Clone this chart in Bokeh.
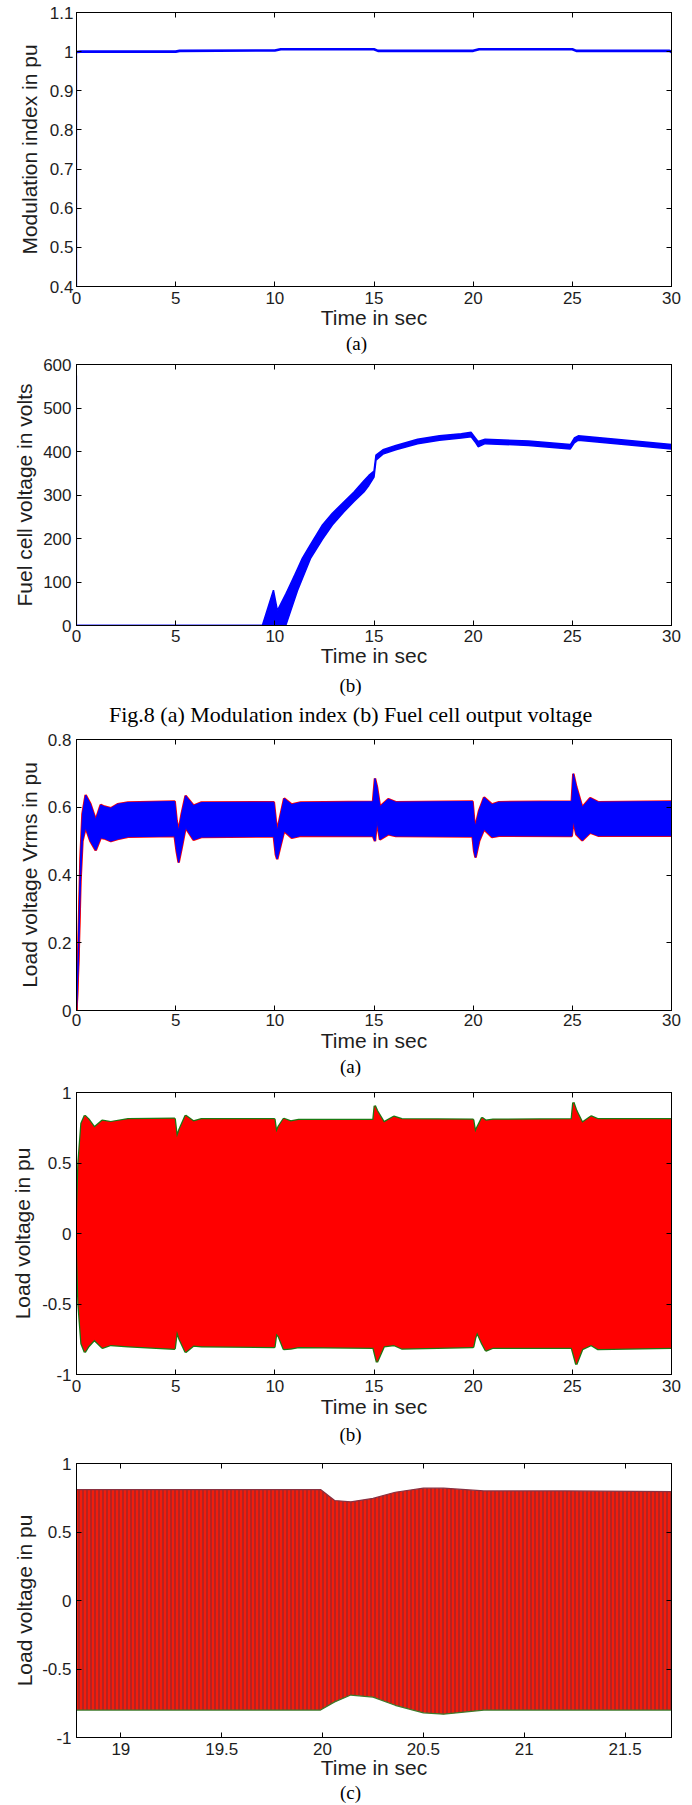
from bokeh.plotting import figure
from bokeh.models import (LinearAxis, FixedTicker, CustomJSTickFormatter, Range1d, Title)
from bokeh.layouts import column
from bokeh.embed import file_html
from bokeh.resources import INLINE

# ---------------- data ----------------
# Fig 8 (a) Modulation index
mi_t = [0, 0, 0.2, 5.0, 5.2, 10.0, 10.3, 15.0, 15.2, 20.0, 20.3, 25.0, 25.2, 29.9, 30]
mi_v = [0.4, 0.999, 1.0, 1.0, 1.002, 1.003, 1.006, 1.006, 1.002, 1.002, 1.006, 1.006, 1.002, 1.002, 0.999]

# Fig 8 (b) Fuel cell voltage (ribbon: upper / lower envelope)
fc_t = [0, 9.37, 9.93, 10.13, 10.55, 10.63, 11.0, 11.14, 11.39, 11.81, 12.4, 12.9, 13.5, 13.99,
        14.49, 14.74, 15.0, 15.1, 15.45, 16.1, 17.2, 18.3, 19.4, 19.9, 20.1, 20.25, 20.6, 22.8,
        24.9, 25.1, 25.3, 27.2, 30]
fc_up = [0, 0, 81, 34, 72, 80, 116, 130, 155, 187, 231, 258, 285, 307,
         333, 345, 355, 392, 404, 414, 428, 436, 441, 444, 432, 423, 428, 424,
         416, 431, 436, 428, 416]
fc_lo = [0, 0, 0, 0, 0, 11, 61, 80, 108, 155, 198, 231, 262, 285,
         307, 322, 341, 380, 394, 404, 418, 426, 431, 434, 422, 411, 418, 414,
         406, 420, 426, 418, 406]
fc_start_t = [0, 0]
fc_start_v = [0, 575]

# Fig 9 (a) Load voltage Vrms
vr_t = [0, 0.1, 0.2, 0.3, 0.46, 0.7, 0.97, 1.22, 1.4, 1.73, 2.07, 2.6, 4.95, 5.05, 5.15,
        5.3, 5.5, 5.9, 6.3, 9.95, 10.05, 10.12, 10.3, 10.47, 10.85, 11.3, 14.95, 15.05, 15.15,
        15.3, 15.72, 16.1, 19.97, 20.05, 20.12, 20.3, 20.55, 20.95, 21.3, 24.97, 25.05, 25.2,
        25.5, 25.9, 26.3, 30]
vr_up = [0, 0.2, 0.45, 0.58, 0.636, 0.61, 0.563, 0.607, 0.602, 0.597, 0.609, 0.614, 0.617, 0.56, 0.53,
         0.58, 0.634, 0.605, 0.614, 0.615, 0.56, 0.53, 0.58, 0.626, 0.608, 0.614, 0.616, 0.685, 0.66,
         0.602, 0.624, 0.615, 0.617, 0.56, 0.545, 0.59, 0.629, 0.608, 0.615, 0.617, 0.699, 0.66,
         0.6, 0.627, 0.615, 0.617]
vr_lo = [0, 0.15, 0.38, 0.5, 0.54, 0.5, 0.473, 0.51, 0.508, 0.5, 0.506, 0.513, 0.515, 0.47, 0.437,
         0.48, 0.54, 0.504, 0.512, 0.514, 0.46, 0.447, 0.49, 0.53, 0.51, 0.516, 0.515, 0.5, 0.56,
         0.505, 0.52, 0.515, 0.514, 0.47, 0.452, 0.5, 0.535, 0.512, 0.516, 0.515, 0.56, 0.52,
         0.502, 0.525, 0.516, 0.516]

# Fig 9 (b) Load voltage (envelope of the three-phase waveform)
lv_t = [0, 0.1, 0.25, 0.42, 0.6, 0.9, 1.3, 1.73, 2.6, 4.95, 5.06, 5.2, 5.5, 5.9, 6.3,
        9.98, 10.07, 10.2, 10.45, 10.8, 11.2, 14.97, 15.04, 15.15, 15.5, 16.0, 16.4, 20.0,
        20.1, 20.2, 20.45, 20.64, 21.0, 24.97, 25.05, 25.2, 25.5, 25.95, 26.3, 30]
lv_up = [0, 0.5, 0.78, 0.835, 0.81, 0.752, 0.8, 0.79, 0.81, 0.813, 0.68, 0.74, 0.835, 0.795, 0.81,
         0.81, 0.717, 0.76, 0.813, 0.795, 0.805, 0.805, 0.906, 0.87, 0.788, 0.828, 0.81, 0.806,
         0.717, 0.75, 0.82, 0.8, 0.806, 0.81, 0.929, 0.87, 0.785, 0.83, 0.81, 0.81]
lv_lo = [0, -0.5, -0.78, -0.841, -0.8, -0.754, -0.81, -0.79, -0.8, -0.817, -0.69, -0.75, -0.84, -0.795, -0.8,
         -0.805, -0.71, -0.73, -0.82, -0.815, -0.805, -0.81, -0.85, -0.912, -0.8, -0.79, -0.815, -0.805,
         -0.74, -0.7, -0.78, -0.83, -0.81, -0.81, -0.85, -0.928, -0.82, -0.79, -0.82, -0.81]

# Fig 9 (c) Load voltage, zoom 18.78 - 21.73 s (envelope)
lz_t = [18.78, 19.99, 20.06, 20.14, 20.25, 20.36, 20.5, 20.6, 20.8, 21.2, 21.73]
lz_up = [0.81, 0.81, 0.73, 0.72, 0.745, 0.79, 0.82, 0.82, 0.80, 0.80, 0.795]
lz_lo = [-0.80, -0.80, -0.74, -0.69, -0.705, -0.765, -0.82, -0.83, -0.80, -0.80, -0.80]

# ticks
x_ticks30 = [0, 5, 10, 15, 20, 25, 30]
x_labels30 = ["0", "5", "10", "15", "20", "25", "30"]
x_ticksz = [19, 19.5, 20, 20.5, 21, 21.5]
x_labelsz = ["19", "19.5", "20", "20.5", "21", "21.5"]
mi_ticks = [0.4, 0.5, 0.6, 0.7, 0.8, 0.9, 1.0, 1.1]
mi_labels = ["0.4", "0.5", "0.6", "0.7", "0.8", "0.9", "1", "1.1"]
fc_ticks = [0, 100, 200, 300, 400, 500, 600]
fc_labels = ["0", "100", "200", "300", "400", "500", "600"]
vr_ticks = [0, 0.2, 0.4, 0.6, 0.8]
vr_labels = ["0", "0.2", "0.4", "0.6", "0.8"]
lv_ticks = [-1, -0.5, 0, 0.5, 1]
lv_labels = ["-1", "-0.5", "0", "0.5", "1"]

cap_fig8 = "Fig.8 (a) Modulation index (b) Fuel cell output voltage"

# ---------------- styling helpers ----------------
SANS = "Liberation Sans"
SERIF = "Liberation Serif"
TXT = "#1e1e1e"
BLUE = "#0000ff"
RED = "#ff0000"
GREEN = "#1a7a12"
PAGE_W = 692
CAPTION_X = 350  # horizontal centre of the captions on the page (px)

FMT_CODE = """
for (let i = 0; i < t.length; i++) { if (Math.abs(t[i] - tick) < 1e-6) return l[i]; }
return "";
"""


def fmt(ticks, labels):
    return CustomJSTickFormatter(args=dict(t=ticks, l=labels), code=FMT_CODE)


def style_axis(ax, ticks, labels, standoff, label_standoff):
    ax.ticker = FixedTicker(ticks=ticks)
    ax.formatter = fmt(ticks, labels)
    ax.major_tick_in = 5
    ax.major_tick_out = 0
    ax.minor_tick_line_color = None
    ax.axis_line_color = "black"
    ax.major_tick_line_color = "black"
    ax.major_label_text_font = SANS
    ax.major_label_text_font_size = "17px"
    ax.major_label_text_color = TXT
    ax.major_label_standoff = standoff
    ax.axis_label_text_font = SANS
    ax.axis_label_text_font_size = "21px"
    ax.axis_label_text_font_style = "normal"
    ax.axis_label_text_color = TXT
    ax.axis_label_standoff = label_standoff


def mirror_axis(p, ticks, side):
    ax = LinearAxis(ticker=FixedTicker(ticks=ticks),
                    formatter=CustomJSTickFormatter(code="return ''"),
                    major_tick_in=5, major_tick_out=0, minor_tick_line_color=None,
                    major_label_standoff=0, axis_line_color="black",
                    major_tick_line_color="black")
    p.add_layout(ax, side)


def make_fig(height, top, bottom, left, right, xr, yr, xt, xl, yt, yl, ylabel,
             xstand, xlabstand, ystand, ylabstand):
    p = figure(width=PAGE_W, height=height, x_range=Range1d(*xr), y_range=Range1d(*yr),
               output_backend="svg", toolbar_location=None,
               min_border_top=top, min_border_bottom=bottom,
               min_border_left=left, min_border_right=right)
    p.grid.visible = False
    p.outline_line_color = "black"
    p.outline_line_width = 1
    p.background_fill_color = "white"
    p.border_fill_color = "white"
    style_axis(p.xaxis[0], xt, xl, xstand, xlabstand)
    style_axis(p.yaxis[0], yt, yl, ystand, ylabstand)
    p.xaxis[0].axis_label = "Time in sec"
    p.yaxis[0].axis_label = ylabel
    mirror_axis(p, xt, "above")
    mirror_axis(p, yt, "right")
    return p


def add_caption(p, frame_left, text, width_est, standoff, size="19px"):
    # serif caption below the x axis, centred on the page at CAPTION_X
    t = Title(text=text, align="left", offset=CAPTION_X - width_est / 2 - frame_left,
              standoff=standoff, vertical_align="top",
              text_font=SERIF, text_font_size=size, text_font_style="normal",
              text_color="black")
    p.add_layout(t, "below")


# ---------------- panel 1: modulation index ----------------
p1 = make_fig(356, 12, 70, 70, 19, (0, 30), (0.4, 1.1), x_ticks30, x_labels30,
              mi_ticks, mi_labels, "Modulation index in pu", 5, -1, 3, 6)
p1.line(mi_t[:2], mi_v[:2], line_color=BLUE, line_width=1.3)
p1.line(mi_t[1:], mi_v[1:], line_color=BLUE, line_width=2.6)
add_caption(p1, 70, "(a)", 21, 2)

# ---------------- panel 2: fuel cell voltage ----------------
p2 = make_fig(371, 8, 99, 76, 15, (0, 30), (0, 600), x_ticks30, x_labels30,
              fc_ticks, fc_labels, "Fuel cell voltage in volts", 4, -1, 5, 4)
p2.varea(x=fc_t, y1=fc_lo, y2=fc_up, fill_color=BLUE)
p2.line(fc_t, fc_up, line_color=BLUE, line_width=1.5)
p2.line(fc_t, fc_lo, line_color=BLUE, line_width=1.5)
p2.line(fc_start_t, fc_start_v, line_color=BLUE, line_width=1.2)
add_caption(p2, 76, "(b)", 22, 10)
add_caption(p2, 76, cap_fig8, 483, -2, "22px")

# ---------------- panel 3: load voltage Vrms ----------------
p3 = make_fig(353, 12, 70, 76, 21, (0, 30), (0, 0.8), x_ticks30, x_labels30,
              vr_ticks, vr_labels, "Load voltage Vrms in pu", 3, 0, 5, 4)
p3.line(vr_t, vr_up, line_color=RED, line_width=2.5)
p3.line(vr_t, vr_lo, line_color=RED, line_width=2.5)
p3.varea(x=vr_t, y1=vr_lo, y2=vr_up, fill_color=BLUE)
p3.line(vr_t, vr_up, line_color=BLUE, line_width=1)
p3.line(vr_t, vr_lo, line_color=BLUE, line_width=1)
add_caption(p3, 76, "(a)", 21, 3)

# ---------------- panel 4: load voltage ----------------
p4 = make_fig(370, 12, 76, 76, 18, (0, 30), (-1, 1), x_ticks30, x_labels30,
              lv_ticks, lv_labels, "Load voltage in pu", 5, 0, 5, 5)
p4.line(lv_t, lv_up, line_color=GREEN, line_width=2.5)
p4.line(lv_t, lv_lo, line_color=GREEN, line_width=2.5)
p4.varea(x=lv_t, y1=lv_lo, y2=lv_up, fill_color=RED)
add_caption(p4, 76, "(b)", 22, 6)

# ---------------- panel 5: load voltage zoom ----------------
p5 = make_fig(355, 13, 68, 76, 10, (18.78, 21.73), (-1, 1), x_ticksz, x_labelsz,
              lv_ticks, lv_labels, "Load voltage in pu", 5, -2, 5, 3)
p5.varea(x=lz_t, y1=lz_lo, y2=lz_up, fill_color="#f21d0c",
         hatch_pattern="vertical_line", hatch_color="#5e2a40", hatch_alpha=0.7,
         hatch_scale=4, hatch_weight=1.2)
p5.line(lz_t, lz_up, line_color="#8a3040", line_width=1.2)
p5.line(lz_t, lz_lo, line_color="#3d7a2a", line_width=1.2)
add_caption(p5, 76, "(c)", 21, 0)

layout = column(p1, p2, p3, p4, p5, spacing=0)
open("out.html", "w").write(file_html(layout, INLINE))
